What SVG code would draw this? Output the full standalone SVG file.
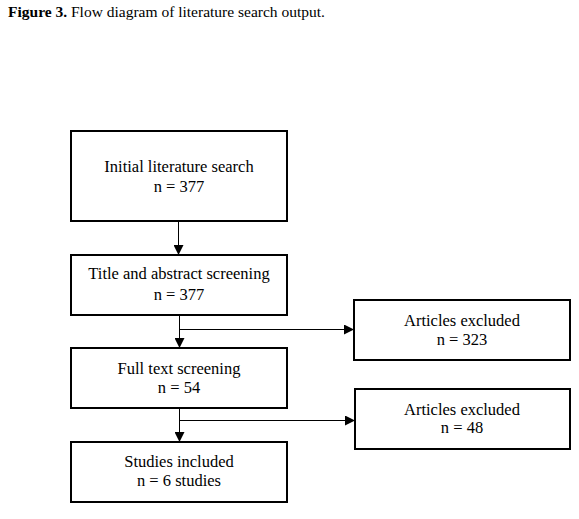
<svg xmlns="http://www.w3.org/2000/svg" width="579" height="519" viewBox="0 0 579 519">
<style>
text{font-family:"Liberation Serif","Times New Roman",serif;font-size:16.5px;fill:#000}
.t{font-size:15.5px}
.c{text-anchor:middle}
.box{fill:#fff;stroke:#000;stroke-width:2}
.ln{fill:none;stroke:#000;stroke-width:1}
</style>
<defs>
<marker id="ah" viewBox="0 0 10 10" refX="10" refY="5" markerWidth="10" markerHeight="10" markerUnits="userSpaceOnUse" orient="auto">
<path d="M0,0 L10,5 L0,10 Z" fill="#000"/>
</marker>
</defs>
<rect width="579" height="519" fill="#fff"/>
<text class="t" x="8" y="17"><tspan font-weight="bold">Figure 3.</tspan> Flow diagram of literature search output.</text>
<g id="connectors">
<line class="ln" x1="178.5" y1="221" x2="178.5" y2="255" marker-end="url(#ah)"/>
<line class="ln" x1="179.5" y1="315" x2="179.5" y2="348" marker-end="url(#ah)"/>
<line class="ln" x1="179.5" y1="329.5" x2="354" y2="329.5" marker-end="url(#ah)"/>
<line class="ln" x1="179.5" y1="408" x2="179.5" y2="442" marker-end="url(#ah)"/>
<line class="ln" x1="179.5" y1="420.5" x2="355" y2="420.5" marker-end="url(#ah)"/>
</g>
<g id="n1">
<rect class="box" x="71" y="131" width="216" height="90"/>
<text class="c" x="179" y="172">Initial literature search</text>
<text class="c" x="179" y="192">n = 377</text>
</g>
<g id="n2">
<rect class="box" x="71" y="255" width="216" height="60"/>
<text class="c" x="179" y="279">Title and abstract screening</text>
<text class="c" x="179" y="300">n = 377</text>
</g>
<g id="n3">
<rect class="box" x="71" y="348" width="216" height="60"/>
<text class="c" x="179" y="374">Full text screening</text>
<text class="c" x="179" y="393">n = 54</text>
</g>
<g id="n4">
<rect class="box" x="71" y="442" width="216" height="60"/>
<text class="c" x="179" y="467">Studies included</text>
<text class="c" x="179" y="486">n = 6 studies</text>
</g>
<g id="e1">
<rect class="box" x="354" y="300" width="216" height="60"/>
<text class="c" x="462" y="326">Articles excluded</text>
<text class="c" x="462" y="345">n = 323</text>
</g>
<g id="e2">
<rect class="box" x="355" y="389" width="215" height="60"/>
<text class="c" x="462" y="415">Articles excluded</text>
<text class="c" x="462" y="433">n = 48</text>
</g>
</svg>
